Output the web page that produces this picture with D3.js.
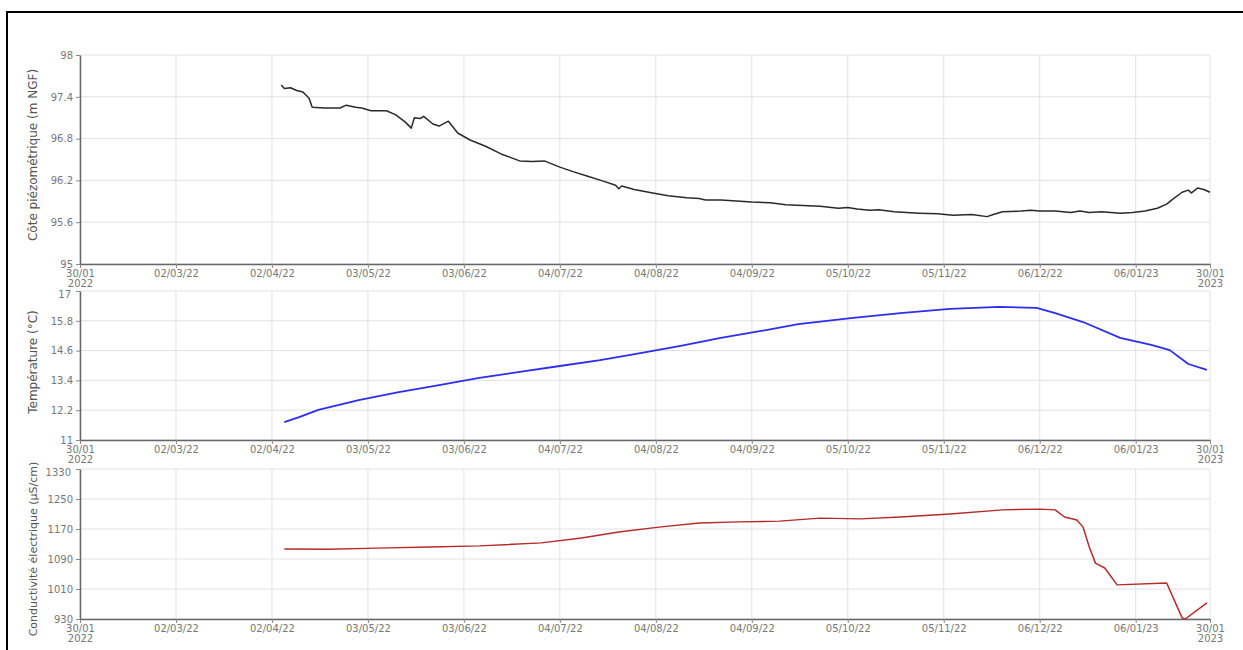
<!DOCTYPE html>
<html>
<head>
<meta charset="utf-8">
<script src="https://cdn.jsdelivr.net/npm/d3@7"></script>
<style>
  body { margin: 0; background: #fff; }
  svg { display: block; }
</style>
</head>
<body>
<svg width="1243" height="650"></svg>
<script>
// x ticks (every 31 days + end of period)
let tickDates = ["2022-01-30", "2022-03-02", "2022-04-02", "2022-05-03", "2022-06-03", "2022-07-04",
  "2022-08-04", "2022-09-04", "2022-10-05", "2022-11-05", "2022-12-06", "2023-01-06", "2023-01-30"];

// piezometric level (m NGF)
let levelDates = ["2022-04-05", "2022-04-06", "2022-04-08", "2022-04-10", "2022-04-12", "2022-04-14", "2022-04-15",
  "2022-04-19", "2022-04-24", "2022-04-26", "2022-04-29", "2022-05-01", "2022-05-04", "2022-05-09", "2022-05-12",
  "2022-05-15", "2022-05-17", "2022-05-18", "2022-05-20", "2022-05-21", "2022-05-24", "2022-05-26", "2022-05-29",
  "2022-06-01", "2022-06-05", "2022-06-10", "2022-06-15", "2022-06-21", "2022-06-25", "2022-06-29", "2022-07-04",
  "2022-07-08", "2022-07-13", "2022-07-18", "2022-07-22", "2022-07-23", "2022-07-24", "2022-07-28", "2022-08-03",
  "2022-08-08", "2022-08-14", "2022-08-18", "2022-08-20", "2022-08-25", "2022-09-04", "2022-09-10", "2022-09-15",
  "2022-09-26", "2022-10-02", "2022-10-05", "2022-10-08", "2022-10-12", "2022-10-15", "2022-10-20", "2022-10-28",
  "2022-11-03", "2022-11-08", "2022-11-14", "2022-11-19", "2022-11-21", "2022-11-24", "2022-11-30", "2022-12-03",
  "2022-12-06", "2022-12-11", "2022-12-16", "2022-12-19", "2022-12-22", "2022-12-26", "2023-01-01", "2023-01-05",
  "2023-01-09", "2023-01-13", "2023-01-16", "2023-01-18", "2023-01-21", "2023-01-23", "2023-01-24", "2023-01-26",
  "2023-01-28", "2023-01-30"];
let levelValues = [97.57, 97.52, 97.53, 97.49, 97.47, 97.38, 97.25,
  97.24, 97.24, 97.28, 97.25, 97.24, 97.20, 97.20, 97.14,
  97.04, 96.95, 97.10, 97.09, 97.12, 97.01, 96.98, 97.05,
  96.88, 96.78, 96.69, 96.58, 96.48, 96.47, 96.48, 96.39,
  96.33, 96.26, 96.19, 96.13, 96.08, 96.12, 96.07, 96.02,
  95.98, 95.95, 95.94, 95.92, 95.92, 95.89, 95.88, 95.85,
  95.83, 95.80, 95.81, 95.79, 95.77, 95.78, 95.75, 95.73,
  95.72, 95.70, 95.71, 95.68, 95.71, 95.75, 95.76, 95.77,
  95.76, 95.76, 95.74, 95.76, 95.74, 95.75, 95.73, 95.74,
  95.76, 95.80, 95.86, 95.93, 96.03, 96.06, 96.02, 96.09,
  96.07, 96.03];
let levelTicks = [95, 95.6, 96.2, 96.8, 97.4, 98];

// temperature (°C)
let tempDates = ["2022-04-06", "2022-04-11", "2022-04-17", "2022-04-30", "2022-05-13", "2022-05-26", "2022-06-08",
  "2022-06-21", "2022-07-04", "2022-07-17", "2022-07-30", "2022-08-12", "2022-08-25", "2022-09-07", "2022-09-19",
  "2022-10-06", "2022-10-22", "2022-11-07", "2022-11-23", "2022-12-05", "2022-12-11", "2022-12-20", "2023-01-01",
  "2023-01-11", "2023-01-17", "2023-01-23", "2023-01-29"];
let tempValues = [11.72, 11.93, 12.21, 12.61, 12.93, 13.21, 13.50,
  13.74, 13.98, 14.22, 14.50, 14.79, 15.11, 15.39, 15.67,
  15.91, 16.11, 16.28, 16.36, 16.32, 16.11, 15.75, 15.11,
  14.83, 14.62, 14.06, 13.82];
let tempTicks = [11, 12.2, 13.4, 14.6, 15.8, 17];

// electrical conductivity (µS/cm)
let condDates = ["2022-04-06", "2022-04-20", "2022-05-06", "2022-05-23", "2022-06-08", "2022-06-28", "2022-07-11",
  "2022-07-23", "2022-08-05", "2022-08-18", "2022-08-31", "2022-09-13", "2022-09-26", "2022-10-09", "2022-10-22",
  "2022-11-07", "2022-11-24", "2022-12-06", "2022-12-11", "2022-12-14", "2022-12-18", "2022-12-20", "2022-12-22",
  "2022-12-24", "2022-12-27", "2022-12-31", "2023-01-16", "2023-01-21", "2023-01-22", "2023-01-29"];
let condValues = [1117, 1116, 1119, 1122, 1125, 1133, 1146,
  1162, 1175, 1186, 1189, 1191, 1199, 1197, 1202,
  1210, 1221, 1223, 1221, 1202, 1194, 1175, 1122,
  1079, 1066, 1021, 1026, 933, 930, 973];
let condTicks = [930, 1010, 1090, 1170, 1250, 1330];

let parse = d3.timeParse("%Y-%m-%d");
let fmt = d3.timeFormat("%d/%m/%y");

let svg = d3.select("svg");
let left = 80, right = 1210;

// outer frame
svg.append("rect")
  .attr("x", 7).attr("y", 12)
  .attr("width", 1300).attr("height", 700)
  .attr("fill", "none").attr("stroke", "#000").attr("stroke-width", 2);

let x = d3.scaleTime()
  .domain([parse("2022-01-30"), parse("2023-01-30")])
  .range([left, right]);

let panels = [
  { dates: levelDates, values: levelValues, ticks: levelTicks, top: 55, bottom: 264,
    color: "#2a2a2a", width: 1.5, title: "Côte piézométrique (m NGF)", titleY: 155, titleSize: 12 },
  { dates: tempDates, values: tempValues, ticks: tempTicks, top: 291, bottom: 440,
    color: "#2d2df0", width: 1.8, title: "Température (°C)", titleY: 362, titleSize: 12 },
  { dates: condDates, values: condValues, ticks: condTicks, top: 469, bottom: 619,
    color: "#b52a2a", width: 1.5, title: "Conductivité électrique (µS/cm)", titleY: 549, titleSize: 11 }
];

let font = "'DejaVu Sans', sans-serif";
let ticks = tickDates.map(parse);

panels.forEach(function (p, pi) {
  let y = d3.scaleLinear()
    .domain([p.ticks[0], p.ticks[p.ticks.length - 1]])
    .range([p.bottom, p.top]);

  let g = svg.append("g");

  // grid
  g.selectAll(".vgrid")
    .data(ticks)
    .join("line")
    .attr("x1", d => x(d)).attr("x2", d => x(d))
    .attr("y1", p.top).attr("y2", p.bottom)
    .attr("stroke", "#e2e2e2");
  g.selectAll(".hgrid")
    .data(p.ticks)
    .join("line")
    .attr("x1", left).attr("x2", right)
    .attr("y1", d => y(d)).attr("y2", d => y(d))
    .attr("stroke", "#e2e2e2");

  // axes
  let xa = g.append("g")
    .attr("transform", "translate(0," + p.bottom + ")")
    .call(d3.axisBottom(x).tickValues(ticks).tickSize(4).tickSizeOuter(0)
      .tickFormat(function (d, i) { return (i == 0 || i == ticks.length - 1) ? "" : fmt(d); }));

  xa.selectAll(".tick text")
    .each(function (d, i) {
      if (i == 0 || i == ticks.length - 1) {
        let t = d3.select(this);
        t.append("tspan").attr("x", 0).text(d3.timeFormat("%d/%m")(d));
        t.append("tspan").attr("x", 0).attr("dy", "0.95em").text(d3.timeFormat("%Y")(d));
      }
    });

  let ya = g.append("g")
    .attr("transform", "translate(" + left + ",0)")
    .call(d3.axisLeft(y).tickValues(p.ticks).tickSize(4).tickSizeOuter(0)
      .tickFormat(d => String(d)));

  [xa, ya].forEach(function (a) {
    a.select(".domain").attr("stroke", "#666").attr("stroke-width", 1.5);
    a.selectAll(".tick line").attr("stroke", "#888");
    a.selectAll("text")
      .attr("fill", "#777")
      .style("font-family", font)
      .style("font-size", "10px");
  });
  xa.selectAll(".tick text").attr("y", 6);
  // top label of the lower panels sits under the year of the panel above
  if (pi > 0) {
    ya.selectAll(".tick text").filter((d, i) => i == p.ticks.length - 1)
      .attr("x", -9).attr("dy", "0.6em");
  }

  // title
  svg.append("text")
    .attr("transform", "translate(37," + p.titleY + ") rotate(-90)")
    .attr("text-anchor", "middle")
    .style("font-family", font)
    .style("font-size", p.titleSize + "px")
    .attr("fill", "#555")
    .text(p.title);

  // series
  let series = p.dates.map((d, i) => ({ date: parse(d), value: p.values[i] }));
  g.append("path")
    .datum(series)
    .attr("fill", "none")
    .attr("stroke", p.color)
    .attr("stroke-width", p.width)
    .attr("stroke-linejoin", "round")
    .attr("d", d3.line().x(d => x(d.date)).y(d => y(d.value)));
});
</script>
</body>
</html>
